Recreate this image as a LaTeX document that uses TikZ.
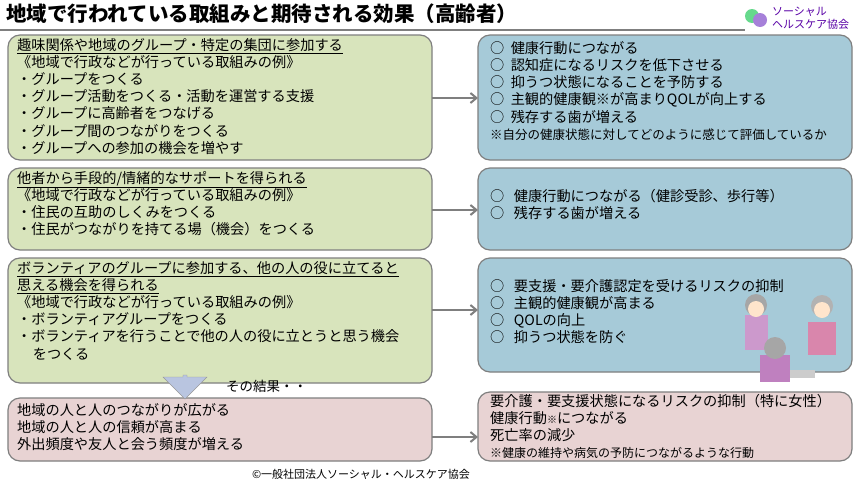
\documentclass[tikz,border=0pt]{standalone}
\usepackage{fontspec}
\setmainfont{Noto Sans CJK JP}
\usetikzlibrary{shapes.arrows,arrows.meta}
\definecolor{gfill}{HTML}{D8E4BC}
\definecolor{bfill}{HTML}{A6CAD8}
\definecolor{pfill}{HTML}{E8D3D3}
\definecolor{bord}{HTML}{7F7F7F}
\definecolor{afill}{HTML}{B9C5E0}
\begin{document}
\begin{tikzpicture}[x=1pt,y=-1pt,
 box/.style={draw=bord,line width=1.2pt,rounded corners=12pt},
 txt/.style={anchor=north west,inner sep=0pt,align=left,font=\fontsize{14.2}{17.2}\selectfont},
 arr/.style={draw=bord,line width=2pt,-{Straight Barb[length=6pt,width=10pt]}}]
\useasboundingbox (0,0) rectangle (860,482);
\fill[white] (0,0) rectangle (860,482);
\node[anchor=west,inner sep=0pt,font=\fontsize{20.5}{22}\selectfont\bfseries] (title) at (6,14) {地域で行われている取組みと期待される効果（高齢者）};
\draw[bord,line width=1.5pt] (0,30) -- (745,30);
% logo
\fill[green!50!teal!60] (752,16) circle (7); \fill[blue!40!violet!50] (760,20) circle (7);
\node[anchor=west,inner sep=0pt,align=left,text=violet!70!blue,font=\fontsize{11}{12.5}\selectfont] (logo) at (772,18) {ソーシャル\\ヘルスケア協会};
% boxes
\draw[box,fill=gfill] (8,35) rectangle (432,160);
\draw[box,fill=gfill] (8,168) rectangle (432,250);
\draw[box,fill=gfill] (8,258) rectangle (432,383);
\draw[box,fill=pfill] (8,398) rectangle (432,461);
\draw[box,fill=bfill] (478,35) rectangle (852,160);
\draw[box,fill=bfill] (478,168) rectangle (852,250);
\draw[box,fill=bfill] (478,258) rectangle (852,372);
\draw[box,fill=pfill] (478,392) rectangle (852,461);
\coordinate (a1) at (432,98); \coordinate (b1) at (478,98);
\coordinate (a2) at (432,210); \coordinate (b2) at (478,210);
\coordinate (a3) at (432,310); \coordinate (b3) at (478,310);
\coordinate (a4) at (432,437); \coordinate (b4) at (478,437);
\draw[arr] (a1)--(b1); \draw[arr] (a2)--(b2); \draw[arr] (a3)--(b3); \draw[arr] (a4)--(b4);
% texts
\node[txt] (t1) at (17,38) {\underline{趣味関係や地域のグループ・特定の集団に参加する}\\《地域で行政などが行っている取組みの例》\\・グループをつくる\\・グループ活動をつくる・活動を運営する支援\\・グループに高齢者をつなげる\\・グループ間のつながりをつくる\\・グループへの参加の機会を増やす};
\node[txt] (t2) at (17,171) {\underline{他者から手段的/情緒的なサポートを得られる}\\《地域で行政などが行っている取組みの例》\\・住民の互助のしくみをつくる\\・住民がつながりを持てる場（機会）をつくる};
\node[txt] (t3) at (17,261) {\underline{ボランティアのグループに参加する、他の人の役に立てると}\\\underline{思える機会を得られる}\\《地域で行政などが行っている取組みの例》\\・ボランティアグループをつくる\\・ボランティアを行うことで他の人の役に立とうと思う機会\\\hspace*{1.1em}をつくる};
\node[txt] (t4) at (17,403) {地域の人と人のつながりが広がる\\地域の人と人の信頼が高まる\\外出頻度や友人と会う頻度が増える};
\node[txt] (u1) at (490,41) {○\ \ 健康行動につながる\\○\ \ 認知症になるリスクを低下させる\\○\ \ 抑うつ状態になることを予防する\\○\ \ 主観的健康観※が高まりQOLが向上する\\○\ \ 残存する歯が増える\\{\fontsize{12.5}{14}\selectfont ※自分の健康状態に対してどのように感じて評価しているか}};
\node[txt] (u2) at (490,189) {○\ \ \ 健康行動につながる（健診受診、歩行等）\\○\ \ \ 残存する歯が増える};
\node[txt] (u3) at (490,279) {○\ \ \ 要支援・要介護認定を受けるリスクの抑制\\○\ \ \ 主観的健康観が高まる\\○\ \ \ QOLの向上\\○\ \ \ 抑うつ状態を防ぐ};
\node[txt] (u4) at (490,394) {要介護・要支援状態になるリスクの抑制（特に女性）\\健康行動{\fontsize{10}{10}\selectfont ※}につながる\\死亡率の減少\\{\fontsize{12}{14}\selectfont ※健康の維持や病気の予防につながるような行動}};
% down arrow
\node[single arrow,shape border rotate=270,draw=bord!80,fill=afill,minimum width=44pt,single arrow head extend=2pt,minimum height=24pt,inner sep=0pt] (down) at (185,386) {};
\node[anchor=west,inner sep=0pt,font=\fontsize{13.5}{14}\selectfont] (res) at (226,386) {その結果・・};
% illustration
\fill[gray!40] (770,370) rectangle (815,378);
\fill[violet!40] (745,315) rectangle (768,350); \fill[gray!70] (756,305) circle (11); \fill[orange!20] (756,309) circle (8);
\fill[pink!70!violet] (808,322) rectangle (836,355); \fill[gray!60] (822,306) circle (11); \fill[orange!20] (822,310) circle (8);
\fill[violet!50] (760,355) rectangle (790,382); \fill[gray!70] (775,348) circle (11);
\node[anchor=center,inner sep=0pt,font=\fontsize{11}{12}\selectfont] (copy) at (361,474) {©一般社団法人ソーシャル・ヘルスケア協会};
\end{tikzpicture}
\end{document}
